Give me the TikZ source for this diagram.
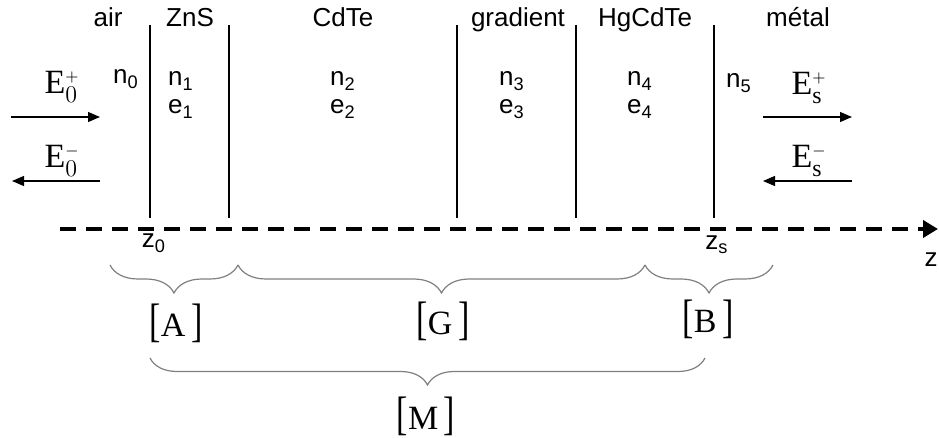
\documentclass[tikz,border=0pt]{standalone}
\usepackage{graphicx}
\usepackage{fontspec}
\setmainfont{Liberation Serif}
\setsansfont{Liberation Sans}
\usepackage{tikz}
\usetikzlibrary{arrows.meta,decorations.pathreplacing}

\newcommand{\mtxlbl}[1]{\scalebox{1}[1.38]{[}#1\,\scalebox{1}[1.38]{]}}

\begin{document}
\begin{tikzpicture}[x=0.5pt,y=-0.5pt,
  lbl/.style={font=\sffamily\fontsize{13}{15}\selectfont,anchor=base,inner sep=0pt},
  fld/.style={font=\fontsize{17}{20}\selectfont,anchor=base,inner sep=0pt},
  wave/.style={line width=0.6pt,-{Triangle[length=6pt,width=5pt]}},
  brc/.style={gray,line width=0.6pt,decorate,decoration={brace,mirror,amplitude=14pt}}]
\useasboundingbox (0,0) rectangle (939,438);
% interfaces
\foreach \x [count=\i from 0] in {150,229,457,576,714}{
  \draw[line width=0.6pt] (\x,25) coordinate (top\i) -- (\x,218) coordinate (bot\i);
}
% materials
\foreach \x/\txt [count=\i] in {108/air,190/ZnS,343/CdTe,518/gradient,645/HgCdTe,798/métal}{
  \node[lbl] (mat\i) at (\x,27) {\txt};
}
\node[lbl] (n0) at (126,84) {n\textsubscript{0}};
\foreach \x/\i in {181/1,343/2,512/3,640/4}{
  \node[lbl] (n\i) at (\x,86) {n\textsubscript{\i}};
  \node[lbl] (e\i) at (\x,114) {e\textsubscript{\i}};
}
\node[lbl] (n5) at (739,88) {n\textsubscript{5}};
% incident and reflected fields
\node[fld] (Ep0) at (62,94) {$\mathrm{E}_0^{\scriptscriptstyle+}$};
\node[fld] (Em0) at (62,168) {$\mathrm{E}_0^{\scriptscriptstyle-}$};
\node[fld] (Eps) at (809,95) {$\mathrm{E}_{\mathrm{s}}^{\scriptscriptstyle+}$};
\node[fld] (Ems) at (809,168) {$\mathrm{E}_{\mathrm{s}}^{\scriptscriptstyle-}$};
\coordinate (p0a) at (11,117);  \coordinate (p0b) at (100,117);
\coordinate (m0a) at (100,181); \coordinate (m0b) at (12,181);
\coordinate (psa) at (763,117); \coordinate (psb) at (852,117);
\coordinate (msa) at (852,181); \coordinate (msb) at (763,181);
\draw[wave] (p0a) -- (p0b);
\draw[wave] (m0a) -- (m0b);
\draw[wave] (psa) -- (psb);
\draw[wave] (msa) -- (msb);
% z axis
\coordinate (zl) at (60,229);
\coordinate (zr) at (938,229);
\draw[line width=2pt,dash pattern=on 8pt off 5pt,-{Triangle[length=7.5pt,width=8.5pt]}] (zl) -- (zr);
\node[lbl] (z0) at (154,248) {z\textsubscript{0}};
\node[lbl] (zs) at (717,250) {z\textsubscript{s}};
\node[lbl] (z) at (931,267) {z};
% matrices
\coordinate (ba) at (110,265);
\coordinate (bg) at (238,265);
\coordinate (bb) at (645,265);
\coordinate (be) at (773,265);
\draw[brc] (ba) -- (bg);
\draw[brc] (bg) -- (bb);
\draw[brc] (bb) -- (be);
\coordinate (ma) at (150,358);
\coordinate (mb) at (705,358);
\draw[brc,decoration={amplitude=13.5pt}] (ma) -- (mb);
\node[fld] (A) at (176,337) {\mtxlbl{A}};
\node[fld] (G) at (443,335) {\mtxlbl{G}};
\node[fld] (B) at (708,333) {\mtxlbl{B}};
\node[fld] (M) at (426,430) {\mtxlbl{M}};
\end{tikzpicture}
\end{document}
